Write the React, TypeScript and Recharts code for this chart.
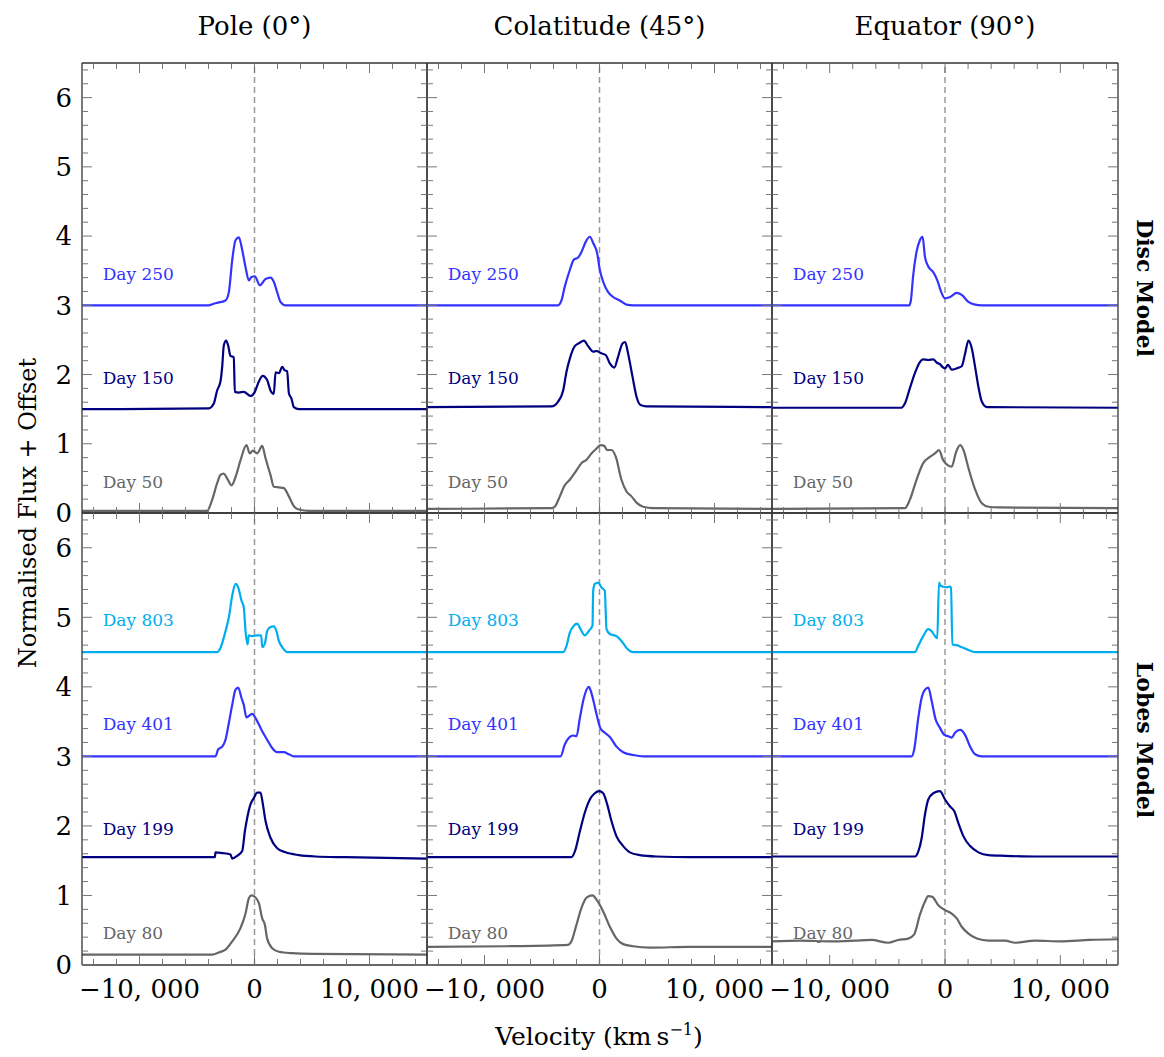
import React from 'react';
import { LineChart, Line, XAxis, YAxis, ReferenceLine, ReferenceDot } from 'recharts';

const W = 1164;
const H = 1057;
const FONT = '"DejaVu Serif", serif';
const COLS = [82, 427, 772, 1118];
const ROWS = [63, 513, 965];
const AX = 1; // thickness reserved by each axis
const FRAME = '#333';
const TICK = '#777';

const GRAY = '#666666';
const NAVY = '#000080';
const BLUE = '#3333ff';
const CYAN = '#00aeef';

const X_TICKS = [-14000, -12000, -10000, -8000, -6000, -4000, -2000, 0, 2000, 4000, 6000, 8000, 10000, 12000, 14000];
const Y_TICKS = [0, 0.2, 0.4, 0.6, 0.8, 1, 1.2, 1.4, 1.6, 1.8, 2, 2.2, 2.4, 2.6, 2.8, 3, 3.2, 3.4, 3.6, 3.8, 4, 4.2, 4.4, 4.6, 4.8, 5, 5.2, 5.4, 5.6, 5.8, 6, 6.2, 6.4];

const COL_TITLES = ['Pole (0°)', 'Colatitude (45°)', 'Equator (90°)'];
const ROW_TITLES = ['Disc Model', 'Lobes Model'];

// [velocity km/s, normalised flux + offset]
const poleDisc250 = [[-15000, 3.0], [-3970, 3.0], [-3400, 3.03], [-2520, 3.07], [-2230, 3.19], [-1940, 3.65], [-1650, 3.94], [-1360, 3.98], [-1070, 3.8], [-780, 3.55], [-490, 3.36], [-260, 3.41], [30, 3.42], [460, 3.29], [960, 3.38], [1390, 3.4], [1680, 3.34], [1970, 3.19], [2260, 3.05], [2700, 3.0], [15000, 3.0]];
const poleDisc150 = [[-15000, 1.5], [-3970, 1.51], [-3540, 1.58], [-3250, 1.77], [-2960, 1.9], [-2810, 2.11], [-2670, 2.42], [-2470, 2.49], [-2290, 2.42], [-2090, 2.27], [-1800, 2.25], [-1710, 1.75], [-1360, 1.74], [-930, 1.75], [-350, 1.69], [30, 1.75], [380, 1.9], [720, 1.98], [1100, 1.92], [1390, 1.77], [1680, 1.72], [1830, 2.03], [2120, 2.02], [2410, 2.11], [2640, 2.06], [2840, 2.05], [2990, 1.73], [3220, 1.65], [3420, 1.53], [3860, 1.5], [15000, 1.5]];
const poleDisc50 = [[-15000, 0.03], [-4120, 0.03], [-3680, 0.19], [-3250, 0.43], [-2960, 0.55], [-2670, 0.57], [-2380, 0.5], [-2000, 0.4], [-1650, 0.52], [-1220, 0.76], [-700, 0.98], [-410, 0.86], [-150, 0.9], [230, 0.86], [670, 0.97], [960, 0.79], [1390, 0.55], [1680, 0.38], [2120, 0.37], [2550, 0.36], [2990, 0.24], [3420, 0.1], [3860, 0.05], [4730, 0.03], [15000, 0.03]];

const colDisc250 = [[-15000, 3.0], [-3600, 3.0], [-3310, 3.07], [-3020, 3.27], [-2580, 3.51], [-2230, 3.66], [-1860, 3.69], [-1570, 3.77], [-1190, 3.92], [-840, 3.99], [-550, 3.9], [-200, 3.75], [30, 3.51], [320, 3.34], [750, 3.19], [1190, 3.12], [1770, 3.07], [2350, 3.01], [2930, 3.0], [15000, 3.0]];
const colDisc150 = [[-15000, 1.53], [-4180, 1.54], [-3600, 1.61], [-3160, 1.77], [-2870, 2.04], [-2580, 2.23], [-2150, 2.41], [-1710, 2.46], [-1360, 2.49], [-990, 2.41], [-550, 2.33], [-260, 2.34], [90, 2.31], [550, 2.28], [900, 2.16], [1280, 2.1], [1620, 2.26], [2000, 2.45], [2230, 2.47], [2490, 2.3], [2870, 1.97], [3220, 1.68], [3570, 1.56], [4090, 1.54], [15000, 1.53]];
const colDisc50 = [[-15000, 0.06], [-4180, 0.07], [-3890, 0.09], [-3450, 0.24], [-3020, 0.4], [-2580, 0.48], [-2060, 0.6], [-1570, 0.72], [-1130, 0.77], [-700, 0.86], [-260, 0.93], [90, 0.98], [410, 0.97], [670, 0.91], [1040, 0.91], [1420, 0.81], [1910, 0.48], [2350, 0.31], [2780, 0.24], [3220, 0.15], [3800, 0.09], [4670, 0.07], [15000, 0.06]];

const eqDisc250 = [[-15000, 3.0], [-3100, 3.0], [-2960, 3.07], [-2760, 3.43], [-2470, 3.77], [-2180, 3.94], [-1940, 3.99], [-1740, 3.7], [-1450, 3.56], [-1020, 3.48], [-640, 3.35], [-350, 3.2], [0, 3.1], [440, 3.12], [1020, 3.18], [1450, 3.15], [2030, 3.05], [2610, 3.01], [3190, 3.0], [15000, 3.0]];
const eqDisc150 = [[-15000, 1.52], [-3770, 1.52], [-3480, 1.58], [-3050, 1.8], [-2610, 2.02], [-2180, 2.18], [-1890, 2.22], [-1450, 2.21], [-1020, 2.22], [-700, 2.17], [-440, 2.15], [-230, 2.11], [0, 2.09], [260, 2.14], [580, 2.07], [1020, 2.09], [1450, 2.12], [1740, 2.3], [2030, 2.49], [2320, 2.38], [2610, 2.11], [2900, 1.82], [3190, 1.61], [3630, 1.53], [15000, 1.52]];
const eqDisc50 = [[-15000, 0.06], [-3480, 0.07], [-3050, 0.19], [-2470, 0.48], [-1890, 0.72], [-1310, 0.81], [-870, 0.86], [-520, 0.91], [-150, 0.76], [580, 0.67], [960, 0.88], [1310, 0.98], [1600, 0.91], [2030, 0.65], [2610, 0.34], [3190, 0.14], [3770, 0.09], [4640, 0.08], [15000, 0.07]];

const poleLobe803 = [[-15000, 4.5], [-3250, 4.5], [-2960, 4.56], [-2520, 4.8], [-2230, 5.0], [-1940, 5.31], [-1650, 5.48], [-1420, 5.43], [-1130, 5.24], [-930, 5.14], [-780, 4.8], [-610, 4.61], [-490, 4.74], [-200, 4.73], [230, 4.74], [580, 4.74], [670, 4.57], [900, 4.62], [1100, 4.8], [1390, 4.86], [1680, 4.87], [1910, 4.8], [2120, 4.66], [2410, 4.57], [2840, 4.5], [15000, 4.5]];
const poleLobe401 = [[-15000, 3.0], [-3390, 3.0], [-3160, 3.1], [-2810, 3.14], [-2520, 3.24], [-2230, 3.48], [-1940, 3.74], [-1650, 3.96], [-1420, 3.99], [-1130, 3.84], [-930, 3.74], [-700, 3.56], [-490, 3.58], [-200, 3.61], [90, 3.55], [380, 3.46], [670, 3.36], [1100, 3.24], [1540, 3.12], [1970, 3.06], [2550, 3.06], [2990, 3.03], [3420, 3.0], [15000, 3.0]];
const poleLobe199 = [[-15000, 1.55], [-3450, 1.55], [-3390, 1.62], [-2810, 1.61], [-2090, 1.59], [-1940, 1.53], [-1510, 1.57], [-1070, 1.64], [-840, 1.92], [-640, 2.11], [-350, 2.31], [-60, 2.4], [230, 2.48], [520, 2.48], [730, 2.31], [960, 2.07], [1390, 1.83], [1970, 1.68], [2700, 1.62], [3860, 1.58], [5310, 1.56], [7920, 1.55], [15000, 1.53]];
const poleLobe80 = [[-15000, 0.15], [-3680, 0.15], [-3100, 0.18], [-2520, 0.22], [-1940, 0.34], [-1220, 0.53], [-780, 0.74], [-490, 0.96], [-260, 1.0], [30, 0.98], [380, 0.89], [670, 0.67], [900, 0.58], [1100, 0.38], [1540, 0.24], [2120, 0.19], [3280, 0.17], [5020, 0.16], [15000, 0.15]];

const colLobe803 = [[-15000, 4.5], [-3160, 4.5], [-2870, 4.59], [-2580, 4.78], [-2230, 4.88], [-1940, 4.91], [-1650, 4.83], [-1280, 4.74], [-900, 4.81], [-610, 4.88], [-550, 5.38], [-410, 5.48], [-120, 5.5], [170, 5.43], [460, 5.38], [610, 4.83], [900, 4.76], [1480, 4.73], [1910, 4.66], [2350, 4.56], [2930, 4.5], [15000, 4.5]];
const colLobe401 = [[-15000, 3.0], [-3390, 3.0], [-3020, 3.17], [-2640, 3.27], [-2290, 3.3], [-2000, 3.29], [-1710, 3.55], [-1360, 3.84], [-930, 4.0], [-700, 3.91], [-320, 3.65], [90, 3.4], [460, 3.34], [900, 3.28], [1480, 3.14], [2060, 3.06], [2930, 3.02], [3800, 3.0], [15000, 3.0]];
const colLobe199 = [[-15000, 1.55], [-2440, 1.55], [-2150, 1.63], [-1710, 1.92], [-1280, 2.19], [-840, 2.38], [-410, 2.47], [-30, 2.5], [320, 2.47], [670, 2.31], [1040, 2.07], [1480, 1.85], [2060, 1.71], [2640, 1.62], [3510, 1.58], [4960, 1.56], [7860, 1.55], [15000, 1.55]];
const colLobe80 = [[-15000, 0.26], [-8000, 0.27], [-2730, 0.29], [-2440, 0.34], [-2000, 0.58], [-1570, 0.82], [-1130, 0.97], [-610, 1.0], [-260, 0.94], [320, 0.77], [900, 0.55], [1480, 0.38], [2060, 0.3], [2930, 0.27], [4380, 0.25], [7830, 0.26], [15000, 0.26]];

const eqLobe803 = [[-15000, 4.5], [-2610, 4.5], [-2320, 4.59], [-1890, 4.73], [-1450, 4.83], [-1160, 4.8], [-870, 4.73], [-670, 4.7], [-520, 5.5], [-350, 5.45], [-120, 5.44], [150, 5.43], [380, 5.44], [520, 5.43], [640, 4.61], [1020, 4.6], [1450, 4.57], [2030, 4.53], [2610, 4.5], [15000, 4.5]];
const eqLobe401 = [[-15000, 3.0], [-2900, 3.0], [-2670, 3.1], [-2320, 3.55], [-2030, 3.84], [-1680, 3.97], [-1450, 3.99], [-1160, 3.8], [-810, 3.53], [-440, 3.41], [-60, 3.31], [290, 3.29], [580, 3.27], [870, 3.34], [1310, 3.38], [1740, 3.31], [2180, 3.14], [2610, 3.03], [3190, 3.0], [15000, 3.0]];
const eqLobe199 = [[-15000, 1.56], [-2610, 1.56], [-2320, 1.63], [-2030, 1.82], [-1740, 2.16], [-1450, 2.38], [-1020, 2.47], [-440, 2.5], [0, 2.38], [440, 2.28], [810, 2.21], [1160, 2.04], [1600, 1.85], [2180, 1.71], [2900, 1.62], [3770, 1.58], [5220, 1.57], [7830, 1.56], [15000, 1.56]];
const eqLobe80 = [[-15000, 0.34], [-12500, 0.35], [-10000, 0.34], [-7830, 0.35], [-6380, 0.36], [-4930, 0.32], [-4060, 0.36], [-3190, 0.38], [-2670, 0.44], [-2180, 0.72], [-1740, 0.91], [-1450, 0.99], [-1100, 0.98], [-580, 0.86], [0, 0.79], [580, 0.74], [1020, 0.67], [1450, 0.55], [2030, 0.45], [2760, 0.38], [3770, 0.35], [5220, 0.35], [6090, 0.32], [7830, 0.35], [10000, 0.34], [12500, 0.36], [15000, 0.37]];

// label positions (velocity of text start, flux of text centre)
const LABEL_V = -13200;
const discLabels = [['Day 250', 3.45, BLUE], ['Day 150', 1.95, NAVY], ['Day 50', 0.45, GRAY]];
const lobeLabels = [['Day 803', 4.96, CYAN], ['Day 401', 3.46, BLUE], ['Day 199', 1.96, NAVY], ['Day 80', 0.46, GRAY]];

const panels = [
  { row: 0, col: 0, lines: [poleDisc250, poleDisc150, poleDisc50], labels: discLabels },
  { row: 0, col: 1, lines: [colDisc250, colDisc150, colDisc50], labels: discLabels },
  { row: 0, col: 2, lines: [eqDisc250, eqDisc150, eqDisc50], labels: discLabels },
  { row: 1, col: 0, lines: [poleLobe803, poleLobe401, poleLobe199, poleLobe80], labels: lobeLabels },
  { row: 1, col: 1, lines: [colLobe803, colLobe401, colLobe199, colLobe80], labels: lobeLabels },
  { row: 1, col: 2, lines: [eqLobe803, eqLobe401, eqLobe199, eqLobe80], labels: lobeLabels },
];

const fmtX = (v: number) => (v < 0 ? '\u2212' : '') + Math.abs(v).toLocaleString('en-US').replace(',', ', ');

const XTick = (p: any) => {
  const { x, y, payload, side, showLabel } = p;
  const v = payload.value;
  const major = v % 10000 === 0;
  const len = major ? 10 : 6;
  const dir = side === 'bottom' ? -1 : 1;
  return (
    <g>
      <line x1={x} x2={x} y1={y} y2={y + dir * len} stroke={TICK} strokeWidth={1} />
      {showLabel && major && (
        <text x={x} y={y + 33} textAnchor="middle" fontSize={26} fontFamily={FONT} fill="#000">
          {fmtX(v)}
        </text>
      )}
    </g>
  );
};

const YTick = (p: any) => {
  const { x, y, payload, side, showLabel } = p;
  const v = payload.value;
  const major = Number.isInteger(v);
  const len = major ? 10 : 6;
  const dir = side === 'left' ? 1 : -1;
  return (
    <g>
      <line x1={x} x2={x + dir * len} y1={y} y2={y} stroke={TICK} strokeWidth={1} />
      {showLabel && major && (
        <text x={x - 10} y={y} dy="0.36em" textAnchor="end" fontSize={26} fontFamily={FONT} fill="#000">
          {v}
        </text>
      )}
    </g>
  );
};

const Panel = ({ row, col, lines, labels }: any) => {
  const margin = {
    left: COLS[col] - AX,
    right: W - COLS[col + 1] - AX,
    top: ROWS[row] - AX,
    bottom: H - ROWS[row + 1] - AX,
  };
  const axisLine = { stroke: FRAME, strokeWidth: 1.3 };
  return (
    <div style={{ position: 'absolute', left: 0, top: 0 }}>
      <LineChart width={W} height={H} margin={margin}>
        <XAxis xAxisId="b" orientation="bottom" type="number" dataKey="v" domain={[-15000, 15000]} allowDataOverflow
          ticks={X_TICKS} interval={0} height={AX} tickSize={0} tickMargin={0} tickLine={false} axisLine={axisLine}
          tick={(p: any) => <XTick {...p} side="bottom" showLabel={row === 1} />} />
        <XAxis xAxisId="t" orientation="top" type="number" dataKey="v" domain={[-15000, 15000]} allowDataOverflow
          ticks={X_TICKS} interval={0} height={AX} tickSize={0} tickMargin={0} tickLine={false} axisLine={axisLine}
          tick={(p: any) => <XTick {...p} side="top" showLabel={false} />} />
        <YAxis yAxisId="l" orientation="left" type="number" domain={[0, 6.5]} allowDataOverflow
          ticks={Y_TICKS} interval={0} width={AX} tickSize={0} tickMargin={0} tickLine={false} axisLine={axisLine}
          tick={(p: any) => <YTick {...p} side="left" showLabel={col === 0} />} />
        <YAxis yAxisId="r" orientation="right" type="number" domain={[0, 6.5]} allowDataOverflow
          ticks={Y_TICKS} interval={0} width={AX} tickSize={0} tickMargin={0} tickLine={false} axisLine={axisLine}
          tick={(p: any) => <YTick {...p} side="right" showLabel={false} />} />
        <ReferenceLine xAxisId="b" yAxisId="l" x={0} stroke="#999" strokeDasharray="6 4" strokeWidth={1.5} />
        {lines.map((pts: number[][], i: number) => (
          <Line key={i} xAxisId="b" yAxisId="l" data={pts.map(([v, f]) => ({ v, f }))} dataKey="f" type="monotone"
            stroke={labels[i][2]} strokeWidth={2.2} dot={false} activeDot={false} isAnimationActive={false} />
        ))}
        {labels.map((l: any[], i: number) => (
          <ReferenceDot key={'l' + i} xAxisId="b" yAxisId="l" x={LABEL_V} y={l[1]} r={0} ifOverflow="visible"
            shape={(p: any) => (
              <text x={p.cx} y={p.cy} dy="0.35em" fill={l[2]} fontSize={17} fontFamily={FONT}>{l[0]}</text>
            )} />
        ))}
      </LineChart>
    </div>
  );
};

export default function App() {
  return (
    <div style={{ position: 'absolute', left: 0, top: 0, width: W, height: H, background: '#fff' }}>
      {panels.map((p, i) => <Panel key={i} {...p} />)}
      <svg width={W} height={H} style={{ position: 'absolute', left: 0, top: 0, pointerEvents: 'none' }} fontFamily={FONT}>
        {COL_TITLES.map((t, i) => (
          <text key={t} x={(COLS[i] + COLS[i + 1]) / 2} y={35} textAnchor="middle" fontSize={26}>{t}</text>
        ))}
        <text transform="translate(36,513) rotate(-90)" textAnchor="middle" fontSize={24}>Normalised Flux + Offset</text>
        {ROW_TITLES.map((t, i) => (
          <text key={t} transform={`translate(1137,${i === 0 ? 288 : 740}) rotate(90)`} textAnchor="middle" fontSize={22} fontWeight="bold">{t}</text>
        ))}
        <text x={599} y={1045} textAnchor="middle" fontSize={25}>
          Velocity (km{'\u2009'}s<tspan dy={-10} fontSize={16}>{'\u2212'}1</tspan><tspan dy={10}>)</tspan>
        </text>
      </svg>
    </div>
  );
}
